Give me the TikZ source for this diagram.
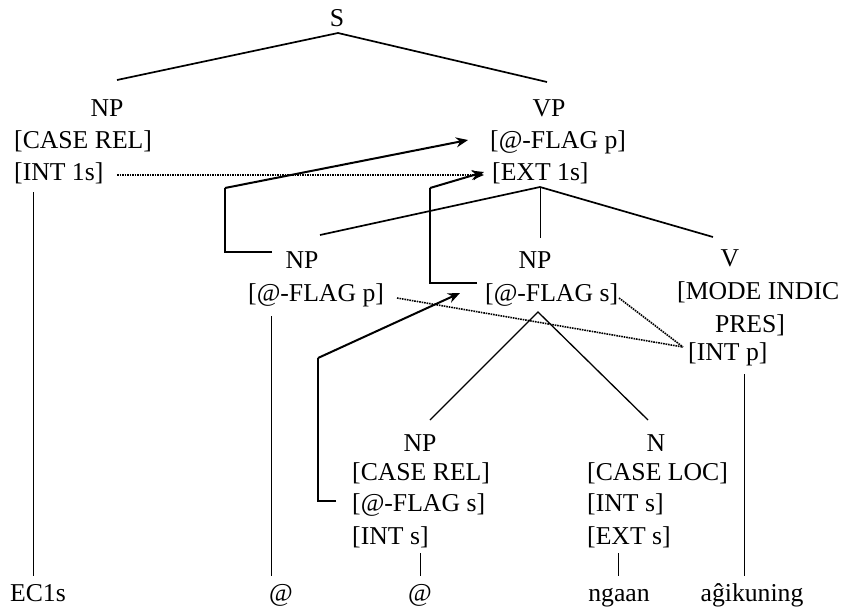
\documentclass[tikz,border=0pt]{standalone}
\usepackage{fontspec}
\setmainfont{Liberation Serif}
\usetikzlibrary{arrows.meta}
\begin{document}
\begin{tikzpicture}[x=1pt,y=-1pt,
  lbl/.style={inner sep=0pt,text height=17pt,text depth=0pt,font=\fontsize{25.7}{30}\selectfont},
  feat/.style={lbl,anchor=west},
  tree/.style={line width=1.7pt},
  thin/.style={line width=0.8pt},
  brk/.style={line width=1.2pt},
  arr/.style={line width=2pt,-{Stealth[length=12pt,width=10pt]}},
  dot/.style={line width=1.6pt,dash pattern=on 1.6pt off 0.9pt},
  dotarr/.style={dot,-{Stealth[length=12pt,width=10pt]}}]
\useasboundingbox (0,0) rectangle (843,611);
% nodes
\node[lbl] (S) at (337,18) {S};
\node[lbl] (npA) at (107,108) {NP};
\node[feat] (npAcase) at (14,140) {[CASE REL]};
\node[feat] (npAint) at (14,172) {[INT 1s]};
\node[lbl] (vp) at (549,108) {VP};
\node[feat] (vpflag) at (490,140) {[@-FLAG p]};
\node[feat] (vpext) at (492,172) {[EXT 1s]};
\node[lbl] (npB) at (302,260) {NP};
\node[feat] (npBflag) at (248,293) {[@-FLAG p]};
\node[lbl] (npC) at (535,260) {NP};
\node[feat] (npCflag) at (485,293) {[@-FLAG s]};
\node[lbl] (v) at (730,258) {V};
\node[feat] (vmode) at (677,291) {[MODE INDIC};
\node[lbl] (vpres) at (750,324) {PRES]};
\node[feat] (vint) at (688,352) {[INT p]};
\node[lbl] (npD) at (420,443) {NP};
\node[feat] (npDcase) at (352,472) {[CASE REL]};
\node[feat] (npDflag) at (352,503) {[@-FLAG s]};
\node[feat] (npDint) at (352,536) {[INT s]};
\node[lbl] (n) at (656,443) {N};
\node[feat] (ncase) at (587,472) {[CASE LOC]};
\node[feat] (nint) at (587,503) {[INT s]};
\node[feat] (next) at (587,536) {[EXT s]};
\node[lbl] (ec) at (38,593) {EC1s};
\node[lbl] (at1) at (281,593) {@};
\node[lbl] (at2) at (420,593) {@};
\node[lbl] (ngaan) at (619,593) {ngaan};
\node[lbl] (agik) at (752,593) {aĝikuning};
% coordinates
\coordinate (sApex) at (338,33);
\coordinate (npAtop) at (117,80);
\coordinate (vpTop) at (547,82);
\coordinate (vpApex) at (540,187);
\coordinate (npBtop) at (320,235);
\coordinate (npCtop) at (540,238);
\coordinate (vTop) at (713,237);
\coordinate (npCApex) at (538,312);
\coordinate (npDtop) at (430,420);
\coordinate (nTop) at (648,420);
% tree lines
\draw[tree] (npAtop) -- (sApex) -- (vpTop);
\draw[tree] (npBtop) -- (vpApex) -- (vTop);
\draw[thin] (vpApex) -- (npCtop);
\draw[line width=1.3pt] (npDtop) -- (npCApex) -- (nTop);
% vertical lines to words
\coordinate (l1) at (33,192); \coordinate (l1b) at (33,576);
\coordinate (l2) at (271,316); \coordinate (l2b) at (271,576);
\coordinate (l3) at (420,553); \coordinate (l3b) at (420,576);
\coordinate (l4) at (618,553); \coordinate (l4b) at (618,576);
\coordinate (l5) at (744,374); \coordinate (l5b) at (744,576);
\draw[thin] (l1) -- (l1b);
\draw[thin] (l2) -- (l2b);
\draw[thin] (l3) -- (l3b);
\draw[thin] (l4) -- (l4b);
\draw[thin] (l5) -- (l5b);
% bracket arrows
\coordinate (b1a) at (272,252); \coordinate (b1b) at (225,252); \coordinate (b1c) at (225,188);
\coordinate (b1t) at (468,140);
\draw[brk] (b1a) -- (b1b) -- (b1c);
\draw[arr] (b1c) -- (b1t);
\coordinate (b2a) at (477,283); \coordinate (b2b) at (430,283); \coordinate (b2c) at (430,188);
\coordinate (b2t) at (484,172);
\draw[brk] (b2a) -- (b2b) -- (b2c);
\draw[arr] (b2c) -- (b2t);
\coordinate (b3a) at (336,501); \coordinate (b3b) at (318,501); \coordinate (b3c) at (318,358);
\coordinate (b3t) at (460,293);
\draw[brk] (b3a) -- (b3b) -- (b3c);
\draw[arr] (b3c) -- (b3t);
% dotted
\coordinate (d1a) at (117,175); \coordinate (d1t) at (484,175);
\draw[dotarr] (d1a) -- (d1t);
\coordinate (dm) at (683,347);
\coordinate (d2a) at (397,298);
\coordinate (d3a) at (619,298);
\draw[dot] (d2a) -- (dm);
\draw[dot] (d3a) -- (dm);
\end{tikzpicture}
\end{document}
